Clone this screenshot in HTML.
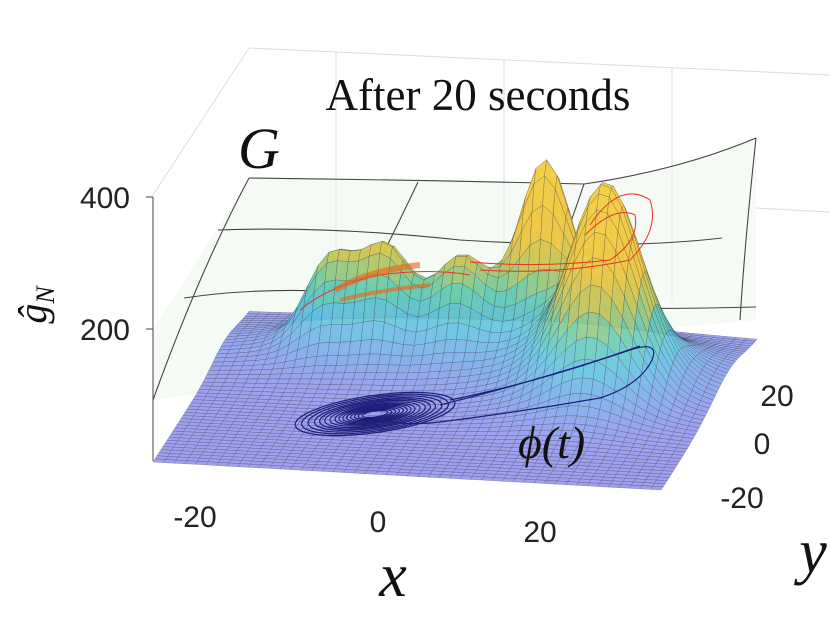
<!DOCTYPE html>
<html><head><meta charset="utf-8"><style>
body{margin:0;background:#fff;}
svg{display:block;}
.lab{font-family:"Liberation Sans",sans-serif;font-size:30px;fill:#222;}
.ser{font-family:"Liberation Serif",serif;fill:#111;}
</style></head><body>
<svg id="chart" width="830" height="623" viewBox="0 0 830 623" xmlns="http://www.w3.org/2000/svg">
<g stroke="#ddd" stroke-width="1" fill="none">
<line x1="153" y1="195" x2="249" y2="48"/>
<line x1="249" y1="48" x2="830" y2="75"/>
<line x1="336" y1="52" x2="336" y2="300"/>
<line x1="504" y1="60" x2="504" y2="300"/>
<line x1="672" y1="68" x2="672" y2="300"/>
<line x1="756" y1="208" x2="830" y2="212"/>
</g>
<g fill="none" stroke="#444" stroke-width="1.1">
<path d="M249,178 Q420,180 584,184 Q680,170 756,138 L756,320 L650,330 L153,400 L153,330 Z" fill="rgba(238,246,236,0.55)" stroke="none"/>
<path d="M249,178 Q420,180 584,184 Q680,170 756,138"/>
<path d="M218,230 Q330,226 460,240 Q620,250 722,238"/>
<path d="M184,298 Q290,282 430,300 Q560,312 756,307"/>
<path d="M249,178 Q200,270 153,400"/>
<path d="M418,182 Q400,220 380,260"/>
<path d="M584,184 Q565,240 540,307"/>
<path d="M756,138 Q745,240 740,320"/>
</g>
<g id="surf"></g>
<g fill="none" stroke="#e8302a" stroke-width="1">
<path d="M590,225 Q620,180 650,200 Q660,230 630,260 Q560,275 480,270"/>
<path d="M585,235 Q615,205 635,215 Q640,240 610,260 Q540,268 470,262"/>
<path d="M300,310 Q330,285 380,275 Q430,268 470,275"/>
<path d="M335,290 Q370,270 420,265" stroke="#f06010" stroke-width="6" opacity="0.6"/>
<path d="M340,300 Q380,290 430,285" stroke="#f06010" stroke-width="4" opacity="0.6"/>
</g>
<g fill="none" stroke="#1b1f7a" stroke-width="1.2" id="traj">
<path d="M440,405 Q540,380 630,350 Q660,340 652,360 Q640,385 600,398 Q520,412 440,422 Q400,426 385,420"/>
<path d="M450,400 Q540,382 640,346"/>
</g>
<text class="ser" x="478" y="110" font-size="45" text-anchor="middle">After 20 seconds</text>
<text class="ser" x="238" y="168" font-size="58" font-style="italic">G</text>
<text class="ser" x="518" y="458" font-size="46" font-style="italic" fill="#1b1f7a">ϕ(t)</text>
<g>
<line x1="153" y1="197" x2="153" y2="461" stroke="#444"/>
<line x1="146" y1="197" x2="153" y2="197" stroke="#444"/>
<line x1="146" y1="329" x2="153" y2="329" stroke="#444"/>
<text class="lab" x="130" y="208" text-anchor="end">400</text>
<text class="lab" x="130" y="340" text-anchor="end">200</text>
<text class="ser" transform="translate(46,305) rotate(-90)" font-size="40" font-style="italic" text-anchor="middle">ĝ<tspan font-size="26" dy="8">N</tspan></text>
</g>
<g>
<text class="lab" x="195" y="527" text-anchor="middle">-20</text>
<text class="lab" x="378" y="532" text-anchor="middle">0</text>
<text class="lab" x="540" y="542" text-anchor="middle">20</text>
<text class="ser" x="393" y="596" font-size="62" font-style="italic" text-anchor="middle">x</text>
</g>
<g>
<text class="lab" x="742" y="508" text-anchor="middle">-20</text>
<text class="lab" x="762" y="454" text-anchor="middle">0</text>
<text class="lab" x="777" y="406" text-anchor="middle">20</text>
<text class="ser" x="813" y="572" font-size="62" font-style="italic" text-anchor="middle">y</text>
</g>
</svg>
<script>
const peakX=[7.3,16.8,-17.4,-10.9,-2,0,15];
const peakY=[18,5,14,14,14,15,5];
const peakH=[235,255,115,120,100,65,50];
const peakSX=[3,4,2.8,2.8,3,18,8];
const peakSY=[3.5,6,3.5,3.5,3.5,8,10];
const spiralR=[62,57,52,47,43,39,35,31,28,25,22,19,16,13,10];
const NS="http://www.w3.org/2000/svg";
function P(x,y,z){return [153+8.47*(x+30)+1.6*(y+30), 462+0.467*(x+30)-2.48*(y+30)-0.66*z];}
function g(x,y){let z=0;for(let i=0;i<peakX.length;i++){z+=peakH[i]*Math.exp(-((x-peakX[i])**2)/(2*peakSX[i]**2)-((y-peakY[i])**2)/(2*peakSY[i]**2));}return z;}
const stops=[[0,150,150,238],[40,125,170,235],[80,95,195,225],[120,105,205,175],[160,200,200,90],[200,240,200,70],[400,245,215,70]];
function col(z){for(let i=1;i<stops.length;i++){if(z<=stops[i][0]){const a=stops[i-1],b=stops[i],t=(z-a[0])/(b[0]-a[0]);return `rgb(${Math.round(a[1]+t*(b[1]-a[1]))},${Math.round(a[2]+t*(b[2]-a[2]))},${Math.round(a[3]+t*(b[3]-a[3]))})`;}}return 'rgb(245,215,70)';}
const surf=document.getElementById('surf');
const N=48,quads=[];
for(let j=0;j<N;j++)for(let i=0;i<N;i++){
 const x0=-30+60*i/N,x1=-30+60*(i+1)/N,y0=-30+60*j/N,y1=-30+60*(j+1)/N;
 const c=[[x0,y0],[x1,y0],[x1,y1],[x0,y1]].map(q=>[q[0],q[1],g(q[0],q[1])]);
 const zm=(c[0][2]+c[1][2]+c[2][2]+c[3][2])/4;
 quads.push({d:(y0+y1)/2-0.15*(x0+x1)/2,c,zm});
}
quads.sort((a,b)=>b.d-a.d);
for(const q of quads){
 const p=document.createElementNS(NS,'polygon');
 
 
 p.setAttribute('points',q.c.map(v=>P(v[0],v[1],v[2]).map(n=>n.toFixed(1)).join(',')).join(' '));
 p.setAttribute('fill',col(q.zm));
 p.setAttribute('fill-opacity','0.9');
 p.setAttribute('stroke','rgba(40,40,60,0.4)');
 p.setAttribute('stroke-width','0.5');
 surf.appendChild(p);
}
const traj=document.getElementById('traj');
for(const r of spiralR){
 const e=document.createElementNS(NS,'ellipse');
 
 
 e.setAttribute('cx','375');e.setAttribute('cy','414');
 e.setAttribute('rx',String(r*1.3));e.setAttribute('ry',String(r*0.3));
 e.setAttribute('transform','rotate(-8 375 414)');
 traj.appendChild(e);
}
</script>
</body></html>
